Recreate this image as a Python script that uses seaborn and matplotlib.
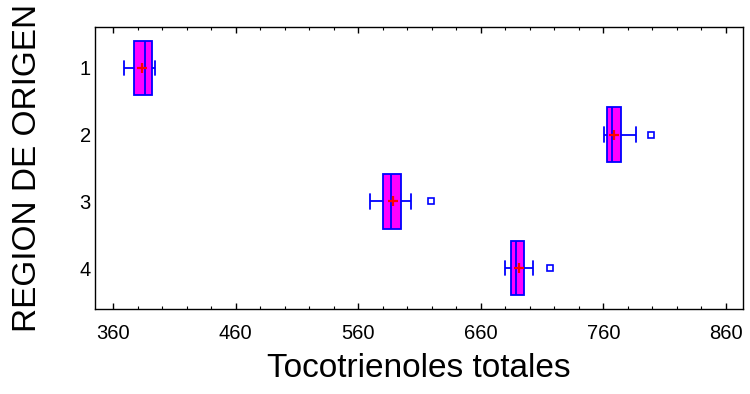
import numpy as np
import pandas as pd
import matplotlib
matplotlib.use("Agg")
import matplotlib.pyplot as plt
from matplotlib.ticker import MultipleLocator
import seaborn as sns

# ---- data ----
regions = ["1", "2", "3", "4"]
whisk_lo = [369.2, 760.2, 569.9, 679.5]
q1 = [377.1, 762.7, 580.5, 684.6]
median = [386.3, 767.0, 586.8, 689.0]
q3 = [391.6, 774.1, 594.7, 695.0]
whisk_hi = [394.5, 786.6, 603.1, 702.8]
outliers = [None, 798.8, 619.4, 716.7]
means = [383.7, 769.0, 588.1, 691.2]
xticks = [360, 460, 560, 660, 760, 860]

# build a long table whose quartiles / whiskers reproduce the summaries
rows = []
for r, lo, a, m, b, hi, o in zip(regions, whisk_lo, q1, median, q3, whisk_hi, outliers):
    vals = [lo, a, a, m, m, b, b, hi]
    if o is not None:
        vals.append(o)
    rows += [(r, v) for v in vals]
df = pd.DataFrame(rows, columns=["region", "value"])
mdf = pd.DataFrame({"region": regions, "value": means})

sns.set_style("ticks")
plt.rcParams["font.family"] = ["Liberation Sans", "DejaVu Sans"]
plt.rcParams["text.color"] = "black"
plt.rcParams["axes.labelcolor"] = "black"
plt.rcParams["xtick.color"] = "black"
plt.rcParams["ytick.color"] = "black"

fig = plt.figure(figsize=(7.5, 3.94), dpi=100)
ax = fig.add_axes([0.1267, 0.2157, 0.864, 0.7158])

sns.boxplot(data=df, x="value", y="region", order=regions, orient="h",
            width=0.82, color="#FF00FF", linecolor="#0000FF", linewidth=1.3,
            whis=1.5, saturation=1,
            flierprops=dict(marker="s", markersize=4.5, markerfacecolor="none",
                            markeredgecolor="#0000FF", markeredgewidth=1.2),
            ax=ax)

# shorten whisker caps
for line in ax.lines:
    yd = np.asarray(line.get_ydata(), dtype=float)
    xd = np.asarray(line.get_xdata(), dtype=float)
    if len(yd) == 2 and xd[0] == xd[1] and yd[0] != yd[1]:
        c = yd.mean()
        if abs(yd[1] - yd[0]) < 0.5:
            line.set_ydata([c - 0.11, c + 0.11])

sns.stripplot(data=mdf, x="value", y="region", order=regions, orient="h",
              jitter=False, marker="+", color="red", size=7, linewidth=1.6,
              ax=ax, zorder=5)

ax.set_xlim(345.3, 873.9)
ax.set_ylim(4.615 - 1, 0.385 - 1)
ax.set_xticks(xticks)
ax.xaxis.set_minor_locator(MultipleLocator(20))
ax.tick_params(axis="x", which="major", direction="in", length=4, width=1,
               top=True, bottom=True, labelsize=14.5, color="black", pad=11)
ax.tick_params(axis="x", which="minor", direction="in", length=2.5, width=0.8,
               top=True, bottom=True)
ax.tick_params(axis="y", length=0, labelsize=14.5, pad=3)
for s in ax.spines.values():
    s.set_visible(True)
    s.set_color("black")
    s.set_linewidth(1.0)

ax.set_xlabel("Tocotrienoles totales", fontsize=24, labelpad=7)
ax.set_ylabel("REGION DE ORIGEN", fontsize=24, labelpad=26)

fig.savefig("out.png", dpi=100)
